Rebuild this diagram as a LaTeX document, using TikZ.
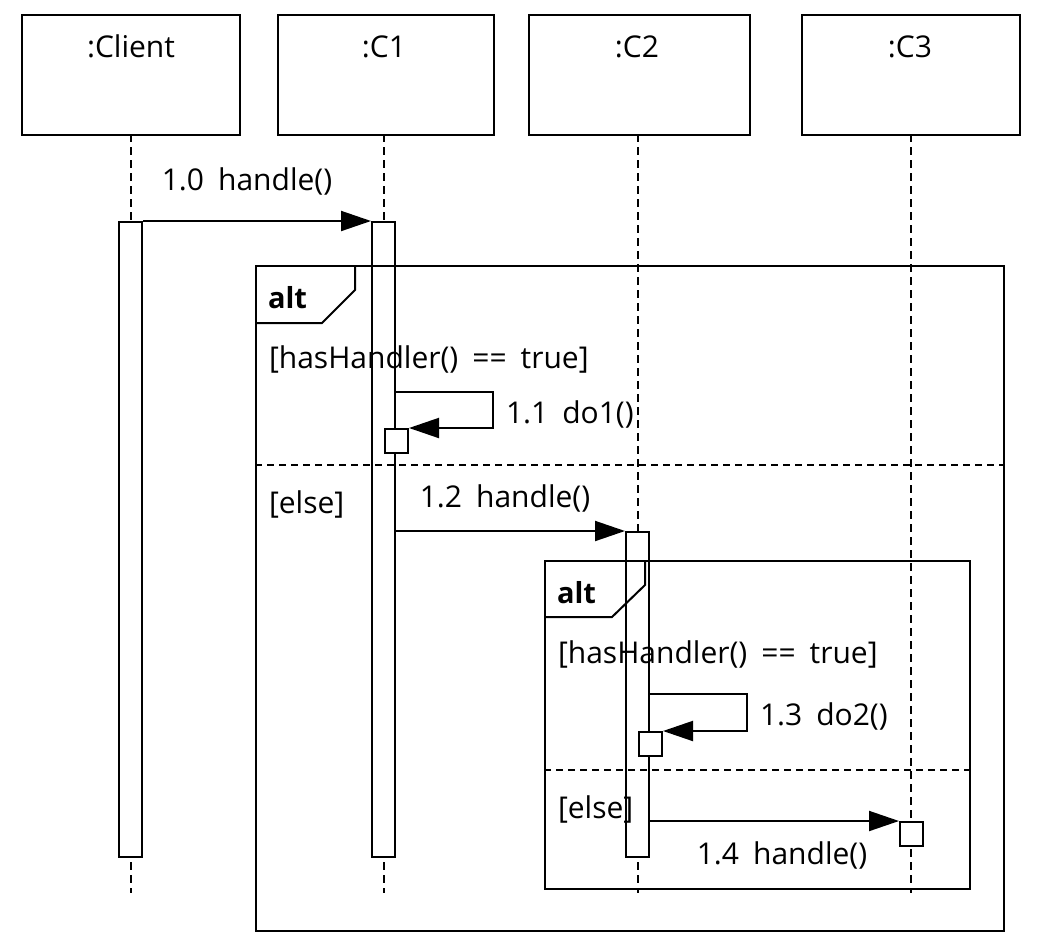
\documentclass[tikz,border=0pt]{standalone}
\usepackage{fontspec}
\setmainfont[WordSpace=1.8]{Open Sans}
\usetikzlibrary{arrows.meta}
\begin{document}
\begin{tikzpicture}[x=1pt,y=-1pt,
  line width=2pt,
  font=\fontsize{30}{34}\selectfont,
  head/.style={draw, minimum width=218pt, minimum height=120pt, inner sep=0pt, anchor=north west},
  act/.style={draw, fill=white, minimum width=23pt, inner sep=0pt, anchor=north},
  sbox/.style={draw, fill=white, minimum width=23pt, minimum height=24pt, inner sep=0pt, anchor=north west},
  life/.style={line width=2pt, dash pattern=on 8pt off 5pt},
  sep/.style={line width=2pt, dash pattern=on 7pt off 5pt},
  frame/.style={draw, inner sep=0pt, anchor=north west},
  msg/.style={line width=2pt, -{Triangle[length=30pt,width=20pt]}},
  txt/.style={inner sep=0pt, anchor=base},
  txtl/.style={inner sep=0pt, anchor=base west},
]
\useasboundingbox[fill=white] (0,0) rectangle (1044,951);

% lifeline heads
\node[head] (client) at (21,14) {};
\node[head, minimum width=216pt] (c1) at (277,14) {};
\node[head, minimum width=221pt] (c2) at (528,14) {};
\node[head] (c3) at (801,14) {};
\node[txt] (tclient) at (131,57) {:Client};
\node[txt] (tc1) at (384,57) {:C1};
\node[txt] (tc2) at (637,57) {:C2};
\node[txt] (tc3) at (910,57) {:C3};

\coordinate (bottom) at (0,893);
\coordinate (l0) at (130.5,134);
\coordinate (l1) at (383.5,134);
\coordinate (l2) at (637.5,134);
\coordinate (l3) at (910.5,134);
\draw[life] (l0) -- (l0 |- bottom);
\draw[life] (l1) -- (l1 |- bottom);
\draw[life] (l2) -- (l2 |- bottom);
\draw[life] (l3) -- (l3 |- bottom);

% activations
\node[act, minimum height=635pt] (aclient) at (130.5,221) {};
\node[act, minimum height=635pt] (ac1) at (383.5,221) {};
\node[act, minimum height=325pt] (ac2) at (637.5,531) {};

% outer alt frame
\node[frame, minimum width=748pt, minimum height=665pt] (alt1) at (255,265) {};
\draw (355,265) -- (355,290) -- (322,323) -- (255,323);
\node[txtl, font=\fontsize{29}{32}\selectfont\bfseries] (alt1t) at (267,308) {alt};
\node[txtl] (g1) at (268,368) {[hasHandler() == true]};
\draw[sep] (alt1.west |- 0,465) -- (alt1.east |- 0,465);
\node[txtl] (e1) at (268,513) {[else]};

% inner alt frame
\node[frame, minimum width=425pt, minimum height=328pt] (alt2) at (544,560) {};
\draw (645,560) -- (645,585) -- (612,617) -- (544,617);
\node[txtl, font=\fontsize{29}{32}\selectfont\bfseries] (alt2t) at (556,603) {alt};
\node[txtl] (g2) at (557,663) {[hasHandler() == true]};
\draw[sep] (alt2.west |- 0,770) -- (alt2.east |- 0,770);
\node[txtl] (e2) at (557,818) {[else]};

% self-call boxes
\node[sbox] (s1) at (384,428) {};
\node[sbox] (s2) at (638,731) {};
\node[sbox] (s3) at (899,821) {};

% messages
\draw[msg] (aclient.north east) -- (ac1.north west);
\node[txt] (m10) at (247,190) {1.0 handle()};

\coordinate (m11a) at (395,392);
\draw[msg] (m11a) -- (493,392) -- (493,428) -- (s1.north east);
\node[txtl] (m11) at (505,423) {1.1 do1()};

\draw[msg] (ac1.east |- ac2.north) -- (ac2.north west);
\node[txt] (m12) at (505,507) {1.2 handle()};

\coordinate (m13a) at (649,694);
\draw[msg] (m13a) -- (747,694) -- (747,731) -- (s2.north east);
\node[txtl] (m13) at (759,725) {1.3 do2()};

\draw[msg] (ac2.east |- s3.north) -- (s3.north west);
\node[txt] (m14) at (782,864) {1.4 handle()};
\end{tikzpicture}
\end{document}
